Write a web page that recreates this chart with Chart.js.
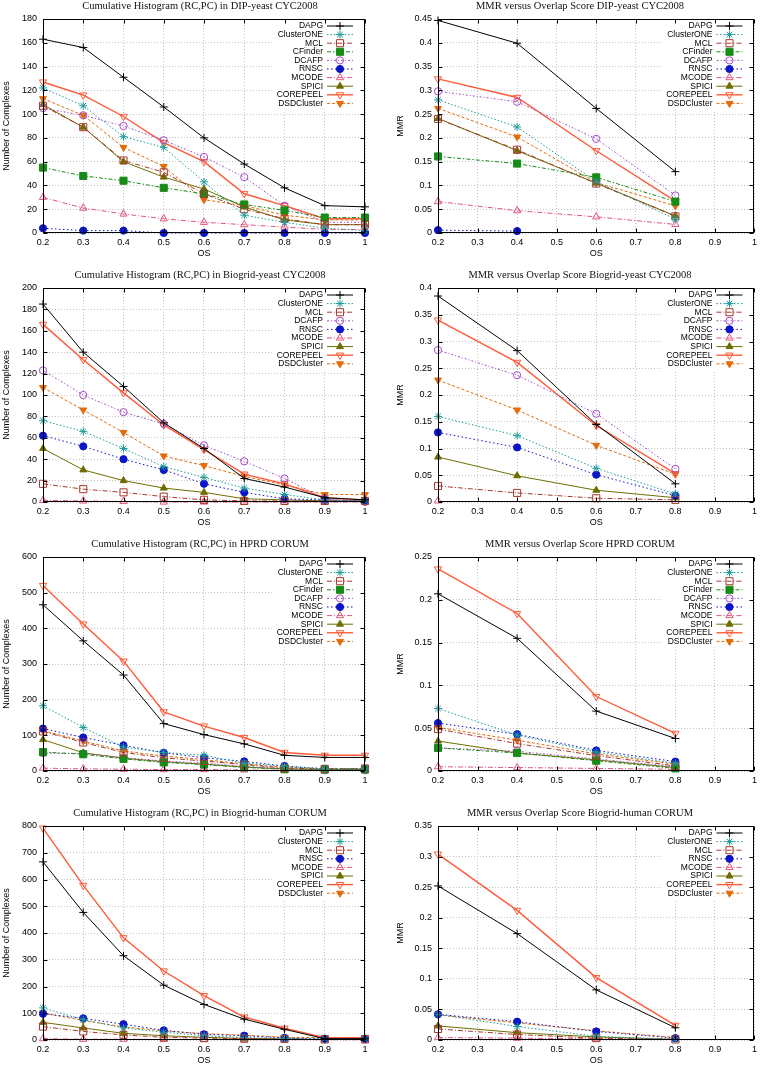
<!DOCTYPE html>
<html>
<head>
<meta charset="utf-8">
<script src="https://cdn.jsdelivr.net/npm/chart.js@4.4.1/dist/chart.umd.min.js"></script>
<style>
  html, body { margin: 0; padding: 0; background: #fff; }
  #page { position: relative; width: 761px; height: 1066px; overflow: hidden; }
  .panel { position: absolute; }
</style>
</head>
<body>
<div id="page"></div>
<script>
// overlap score thresholds on the x axis
const osHist = [0.2, 0.3, 0.4, 0.5, 0.6, 0.7, 0.8, 0.9, 1];
const osMmr = [0.2, 0.4, 0.6, 0.8];

// Cumulative histogram (RC,PC), DIP-yeast / CYC2008
const dipHist = {
  DAPG:       [163, 156, 131, 106, 80, 58, 38, 23, 22],
  ClusterONE: [122, 107, 81, 72, 43, 15, 9, 4, 2],
  MCL:        [107, 89, 61, 51, 33, 20, 12, 7, 7],
  CFinder:    [55, 48, 44, 38, 33, 24, 19, 13, 13],
  DCAFP:      [105, 99, 90, 78, 64, 47, 23, 9, 9],
  RNSC:       [4, 2, 2, 0, 0, 0, 0, 0, 0],
  MCODE:      [30, 21, 16, 12, 9, 7, 5, 3, 3],
  SPICI:      [108, 89, 60, 47, 37, 22, 11, 7, 7],
  COREPEEL:   [127, 116, 98, 76, 60, 33, 23, 12, 12],
  DSDCluster: [113, 99, 72, 56, 28, 23, 15, 11, 11]
};

// MMR, DIP-yeast / CYC2008
const dipMmr = {
  DAPG:       [0.447, 0.399, 0.262, 0.129],
  ClusterONE: [0.28, 0.223, 0.108, 0.029],
  MCL:        [0.24, 0.175, 0.104, 0.035],
  CFinder:    [0.161, 0.146, 0.117, 0.066],
  DCAFP:      [0.298, 0.276, 0.198, 0.079],
  RNSC:       [0.006, 0.004, null, null],
  MCODE:      [0.066, 0.047, 0.034, 0.018],
  SPICI:      [0.241, 0.173, 0.105, 0.036],
  COREPEEL:   [0.324, 0.285, 0.173, 0.067],
  DSDCluster: [0.262, 0.202, 0.106, 0.057]
};

// Cumulative histogram (RC,PC), Biogrid-yeast / CYC2008
const byHist = {
  DAPG:       [185, 140, 108, 74, 50, 22, 14, 4, 2],
  ClusterONE: [76, 66, 50, 33, 23, 13, 7, 2, 1],
  MCL:        [17, 12, 9, 5, 2, 1, 1, 1, 1],
  DCAFP:      [123, 100, 84, 73, 53, 38, 22, 3, 0],
  RNSC:       [62, 52, 40, 30, 17, 9, 3, 2, 1],
  MCODE:      [1.5, 1, 0.5, 0, 0, 0, 0, 0, 0],
  SPICI:      [50, 30, 20, 13, 9, 3, 2, 1, 1],
  COREPEEL:   [166, 133, 102, 72, 49, 26, 17, 4, 2],
  DSDCluster: [107, 86, 65, 43, 34, 24, 16, 7, 7]
};

// MMR, Biogrid-yeast / CYC2008
const byMmr = {
  DAPG:       [0.385, 0.283, 0.145, 0.034],
  ClusterONE: [0.16, 0.124, 0.063, 0.015],
  MCL:        [0.03, 0.017, 0.007, 0.004],
  DCAFP:      [0.284, 0.237, 0.165, 0.062],
  RNSC:       [0.13, 0.102, 0.051, 0.012],
  MCODE:      [0.002, null, null, null],
  SPICI:      [0.084, 0.049, 0.022, 0.008],
  COREPEEL:   [0.34, 0.261, 0.143, 0.053],
  DSDCluster: [0.228, 0.172, 0.106, 0.052]
};

// Cumulative histogram (RC,PC), HPRD / CORUM
const hprdHist = {
  DAPG:       [466, 365, 269, 133, 102, 76, 44, 38, 38],
  ClusterONE: [183, 122, 67, 52, 44, 22, 13, 6, 6],
  MCL:        [111, 80, 52, 37, 28, 18, 8, 6, 7],
  CFinder:    [53, 47, 34, 24, 18, 10, 5, 4, 4],
  DCAFP:      [50, 49, 38, 28, 22, 13, 5, 2, 2],
  RNSC:       [119, 94, 72, 51, 37, 27, 14, 6, 6],
  MCODE:      [8, 6, 5, 4, 4, 3, 2, 2, 2],
  SPICI:      [88, 51, 36, 26, 19, 11, 6, 4, 4],
  COREPEEL:   [520, 412, 308, 166, 126, 94, 52, 44, 44],
  DSDCluster: [113, 84, 56, 42, 32, 20, 10, 7, 7]
};

// MMR, HPRD / CORUM
const hprdMmr = {
  DAPG:       [0.207, 0.155, 0.07, 0.038],
  ClusterONE: [0.073, 0.042, 0.022, 0.009],
  MCL:        [0.049, 0.032, 0.018, 0.006],
  CFinder:    [0.027, 0.021, 0.012, 0.003],
  DCAFP:      [0.027, 0.023, 0.014, 0.005],
  RNSC:       [0.056, 0.043, 0.024, 0.011],
  MCODE:      [0.005, 0.004, 0.003, 0.002],
  SPICI:      [0.035, 0.021, 0.013, 0.004],
  COREPEEL:   [0.236, 0.184, 0.087, 0.044],
  DSDCluster: [0.051, 0.036, 0.02, 0.008]
};

// Cumulative histogram (RC,PC), Biogrid-human / CORUM
const bhHist = {
  DAPG:       [666, 477, 315, 205, 133, 78, 40, 5, 5],
  ClusterONE: [120, 76, 45, 29, 16, 9, 6, 4, 4],
  MCL:        [50, 32, 19, 10, 7, 5, 4, 2, 2],
  RNSC:       [98, 81, 59, 36, 21, 16, 8, 4, 4],
  MCODE:      [5, 3, 3, 2, 2, 1, 1, 1, 1],
  SPICI:      [66, 45, 25, 16, 10, 6, 4, 2, 2],
  COREPEEL:   [792, 578, 382, 258, 166, 86, 44, 9, 9],
  DSDCluster: [101, 73, 49, 34, 24, 18, 10, 9, 9]
};

// MMR, Biogrid-human / CORUM
const bhMmr = {
  DAPG:       [0.252, 0.174, 0.082, 0.02],
  ClusterONE: [0.042, 0.022, 0.006, 0.001],
  MCL:        [0.018, 0.009, 0.003, 0.001],
  RNSC:       [0.042, 0.03, 0.014, 0.003],
  MCODE:      [0.004, 0.003, 0.002, 0.001],
  SPICI:      [0.023, 0.012, 0.005, 0.001],
  COREPEEL:   [0.304, 0.212, 0.102, 0.024],
  DSDCluster: [0.041, 0.028, 0.015, 0.004]
};

// line / marker look of each method
const styles = {
  DAPG:       { color: "#000000", point: "cross",    fill: false, dash: [],            width: 1,   r: 4 },
  ClusterONE: { color: "#1e9b9b", point: "star",     fill: false, dash: [1.5, 2],      width: 1,   r: 4 },
  MCL:        { color: "#a8382e", point: "rect",     fill: false, dash: [5, 2, 1, 2],  width: 1,   r: 5 },
  CFinder:    { color: "#168c16", point: "rect",     fill: true,  dash: [4, 2, 1.5, 2],width: 1,   r: 5 },
  DCAFP:      { color: "#a64bc8", point: "circle",   fill: false, dash: [2, 2, 1, 2],  width: 1,   r: 3.6 },
  RNSC:       { color: "#0a14c8", point: "circle",   fill: true,  dash: [1.5, 2.5],    width: 1,   r: 3.6 },
  MCODE:      { color: "#e2557a", point: "triangle", fill: false, dash: [5, 2, 1, 2],  width: 1,   r: 4.2 },
  SPICI:      { color: "#6e6e00", point: "triangle", fill: true,  dash: [],            width: 1,   r: 4 },
  COREPEEL:   { color: "#ff5a38", point: "triangle", fill: false, dash: [],            width: 1.4, r: 4.2, rot: 180 },
  DSDCluster: { color: "#e36c0a", point: "triangle", fill: true,  dash: [3, 2],        width: 1,   r: 4, rot: 180 }
};

const panels = [
  { title: "Cumulative Histogram (RC,PC) in DIP-yeast CYC2008", series: dipHist, xs: osHist, yMax: 180, yStep: 20, yTitle: "Number of Complexes", col: 0, row: 0 },
  { title: "MMR versus Overlap Score DIP-yeast CYC2008", series: dipMmr, xs: osMmr, yMax: 0.45, yStep: 0.05, yTitle: "MMR", col: 1, row: 0 },
  { title: "Cumulative Histogram (RC,PC) in Biogrid-yeast CYC2008", series: byHist, xs: osHist, yMax: 200, yStep: 20, yTitle: "Number of Complexes", col: 0, row: 1 },
  { title: "MMR versus Overlap Score Biogrid-yeast CYC2008", series: byMmr, xs: osMmr, yMax: 0.4, yStep: 0.05, yTitle: "MMR", col: 1, row: 1 },
  { title: "Cumulative Histogram (RC,PC) in HPRD CORUM", series: hprdHist, xs: osHist, yMax: 600, yStep: 100, yTitle: "Number of Complexes", col: 0, row: 2 },
  { title: "MMR versus Overlap Score HPRD CORUM", series: hprdMmr, xs: osMmr, yMax: 0.25, yStep: 0.05, yTitle: "MMR", col: 1, row: 2 },
  { title: "Cumulative Histogram (RC,PC) in Biogrid-human CORUM", series: bhHist, xs: osHist, yMax: 800, yStep: 100, yTitle: "Number of Complexes", col: 0, row: 3 },
  { title: "MMR versus Overlap Score Biogrid-human CORUM", series: bhMmr, xs: osMmr, yMax: 0.35, yStep: 0.05, yTitle: "MMR", col: 1, row: 3 }
];

const SANS = "'Liberation Sans', Arial, sans-serif";
const SERIF = "'Liberation Serif', 'Times New Roman', serif";

function marker(ctx, ds, x, y) {
  ctx.save();
  ctx.setLineDash([]);
  ctx.lineWidth = 1;
  ctx.strokeStyle = ds.pointBorderColor;
  ctx.fillStyle = ds.pointBackgroundColor;
  Chart.helpers.drawPoint(ctx, {
    pointStyle: ds.pointStyle,
    rotation: ds.pointRotation || 0,
    radius: ds.pointRadius,
    borderWidth: 1
  }, x, y);
  ctx.restore();
}

// gnuplot style key in the top right corner of the plot
const insideLegend = {
  id: "insideLegend",
  afterDatasetsDraw(chart) {
    const { ctx, chartArea } = chart;
    const sets = chart.data.datasets;
    const rowH = 8.6;
    const right = chartArea.right;
    const top = chartArea.top + 7;
    ctx.save();
    ctx.fillStyle = "#ffffff";
    ctx.fillRect(right - 93, chartArea.top + 1, 92, 7 + (sets.length - 1) * rowH + 5);
    ctx.font = "8.5px " + SANS;
    ctx.textAlign = "right";
    ctx.textBaseline = "middle";
    sets.forEach((ds, i) => {
      const y = top + i * rowH;
      ctx.fillStyle = "#000";
      ctx.fillText(ds.label, right - 42, y);
      ctx.strokeStyle = ds.borderColor;
      ctx.lineWidth = ds.borderWidth;
      ctx.setLineDash(ds.borderDash);
      ctx.beginPath();
      ctx.moveTo(right - 38, y);
      ctx.lineTo(right - 12, y);
      ctx.stroke();
      marker(ctx, ds, right - 25, y);
    });
    ctx.restore();
  }
};

// box round the plot with inward ticks
const frame = {
  id: "frame",
  afterDraw(chart) {
    const { ctx, chartArea: a, scales } = chart;
    const L = Math.round(a.left) + 0.5, R = Math.round(a.right) - 0.5;
    const T = Math.round(a.top) + 0.5, B = Math.round(a.bottom) - 0.5;
    ctx.save();
    ctx.strokeStyle = "#000";
    ctx.lineWidth = 1;
    ctx.setLineDash([]);
    ctx.strokeRect(L, T, R - L, B - T);
    ctx.beginPath();
    scales.x.ticks.forEach((t) => {
      const x = Math.round(scales.x.getPixelForValue(t.value)) + 0.5;
      ctx.moveTo(x, B); ctx.lineTo(x, B - 4);
      ctx.moveTo(x, T); ctx.lineTo(x, T + 4);
    });
    scales.y.ticks.forEach((t) => {
      const y = Math.round(scales.y.getPixelForValue(t.value)) + 0.5;
      ctx.moveTo(L, y); ctx.lineTo(L + 4, y);
      ctx.moveTo(R, y); ctx.lineTo(R - 4, y);
    });
    ctx.stroke();
    ctx.restore();
  }
};

// title drawn at a fixed spot above the plot
const panelTitle = {
  id: "panelTitle",
  afterDraw(chart, args, opts) {
    const ctx = chart.ctx;
    ctx.save();
    ctx.font = "10.5px " + SERIF;
    ctx.fillStyle = "#111";
    ctx.textAlign = "center";
    ctx.textBaseline = "middle";
    ctx.fillText(opts.text, 200, 6.5);
    ctx.restore();
  }
};

const fmt = (v) => String(+(+v).toFixed(3));

const page = document.getElementById("page");

panels.forEach((p) => {
  const width = p.col ? 381 : 380;
  const div = document.createElement("div");
  div.className = "panel";
  div.style.left = (p.col ? 380 : 0) + "px";
  div.style.top = p.row * 269 + "px";
  const canvas = document.createElement("canvas");
  canvas.width = width;
  canvas.height = 262;
  canvas.style.width = width + "px";
  canvas.style.height = "262px";
  div.appendChild(canvas);
  page.appendChild(div);

  const datasets = Object.keys(p.series).map((name) => {
    const st = styles[name];
    return {
      label: name,
      data: p.xs.map((x, i) => ({ x: x, y: p.series[name][i] })),
      borderColor: st.color,
      backgroundColor: st.color,
      borderWidth: st.width,
      borderDash: st.dash,
      pointStyle: st.point,
      pointRotation: st.rot || 0,
      pointRadius: st.r,
      pointBorderWidth: 1,
      pointBorderColor: st.color,
      pointBackgroundColor: st.fill ? st.color : "rgba(255,255,255,0)",
      tension: 0,
      fill: false,
      clip: false
    };
  });

  new Chart(canvas, {
    type: "line",
    data: { datasets },
    plugins: [insideLegend, frame, panelTitle],
    options: {
      responsive: false,
      animation: false,
      devicePixelRatio: 1,
      layout: { padding: { left: 0, right: p.col ? 3 : 15, top: 19, bottom: 0 } },
      plugins: {
        legend: { display: false },
        tooltip: { enabled: false },
        panelTitle: { text: p.title }
      },
      scales: {
        x: {
          type: "linear",
          min: 0.2,
          max: 1,
          afterFit: (scale) => { scale.height = 29; },
          grid: { color: "#c4c4c4", lineWidth: 1, drawTicks: false },
          border: { display: false, dash: [1, 2] },
          ticks: { stepSize: 0.1, padding: 4, color: "#000", font: { family: SANS, size: 9 }, callback: fmt, maxRotation: 0 },
          title: { display: true, text: "OS", color: "#000", font: { family: SANS, size: 9 }, padding: { top: 0, bottom: 3 } }
        },
        y: {
          min: 0,
          max: p.yMax,
          afterFit: (scale) => { scale.width = p.col ? 58 : 43; },
          grid: { color: "#c4c4c4", lineWidth: 1, drawTicks: false },
          border: { display: false, dash: [1, 2] },
          ticks: { stepSize: p.yStep, padding: 6, color: "#000", font: { family: SANS, size: 9 }, callback: fmt },
          title: { display: true, text: p.yTitle, color: "#000", font: { family: SANS, size: 9 }, padding: { top: p.col ? 15 : 1, bottom: 0 } }
        }
      }
    }
  });
});
</script>
</body>
</html>
